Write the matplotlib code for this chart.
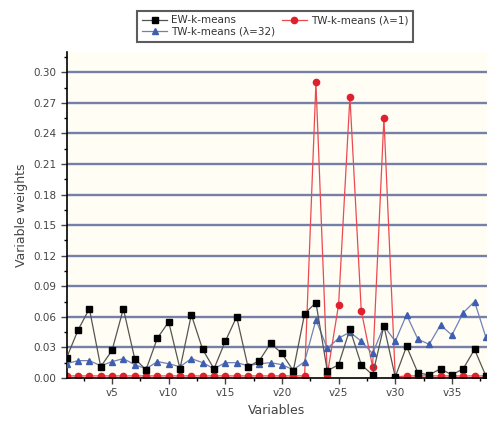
import numpy as np
import matplotlib.pyplot as plt
from matplotlib.ticker import MultipleLocator

# variable index v1..v38
variables = np.arange(1, 39)

ew_kmeans = [0.020, 0.047, 0.068, 0.011, 0.027, 0.068, 0.019, 0.008, 0.039, 0.055,
             0.009, 0.062, 0.028, 0.009, 0.036, 0.060, 0.011, 0.017, 0.034, 0.024,
             0.007, 0.063, 0.074, 0.007, 0.013, 0.048, 0.013, 0.003, 0.051, 0.001,
             0.031, 0.005, 0.003, 0.009, 0.003, 0.009, 0.028, 0.002]

tw_kmeans_1 = [0.002, 0.002, 0.002, 0.002, 0.002, 0.002, 0.002, 0.002, 0.002, 0.002,
               0.002, 0.002, 0.002, 0.002, 0.002, 0.002, 0.002, 0.002, 0.002, 0.002,
               0.002, 0.002, 0.290, 0.003, 0.072, 0.276, 0.066, 0.011, 0.255, 0.001,
               0.002, 0.002, 0.002, 0.002, 0.002, 0.002, 0.002, 0.002]

tw_kmeans_32 = [0.014, 0.017, 0.017, 0.012, 0.016, 0.019, 0.013, 0.009, 0.016, 0.014,
                0.011, 0.019, 0.015, 0.009, 0.015, 0.015, 0.012, 0.014, 0.015, 0.013,
                0.008, 0.016, 0.057, 0.029, 0.039, 0.045, 0.036, 0.024, 0.051, 0.036,
                0.062, 0.038, 0.033, 0.052, 0.042, 0.064, 0.075, 0.040]

xtick_pos = [5, 10, 15, 20, 25, 30, 35]
xtick_labels = ['v5', 'v10', 'v15', 'v20', 'v25', 'v30', 'v35']

fig = plt.figure(figsize=(4.87, 4.29), dpi=100)
ax = fig.add_axes([0.137, 0.119, 0.863, 0.76])
ax.set_facecolor('#fffdf4')

for yv in np.arange(0.03, 0.31, 0.03):
    ax.axhline(yv, color='#7580a8', lw=1.7, zorder=0)

l_red, = ax.plot(variables, tw_kmeans_1, color='#ec4a52', lw=0.9, marker='o', ms=4.5,
                 mfc='#e0202e', mec='#e0202e', label='TW-k-means (λ=1)', zorder=2)
l_blue, = ax.plot(variables, tw_kmeans_32, color='#7181b8', lw=0.9, marker='^', ms=5,
                  mfc='#3e5fb0', mec='#3e5fb0', label='TW-k-means (λ=32)', zorder=3)
l_black, = ax.plot(variables, ew_kmeans, color='#555555', lw=0.9, marker='s', ms=4.5,
                   mfc='black', mec='black', label='EW-k-means', zorder=4)

ax.set_xlim(1, 38.1)
ax.set_ylim(0, 0.32)
ax.yaxis.set_minor_locator(MultipleLocator(0.015))
ax.set_yticks(np.arange(0, 0.31, 0.03))
ax.set_yticklabels(['%.2f' % v for v in np.arange(0, 0.31, 0.03)])
ax.set_xticks(xtick_pos)
ax.set_xticklabels(xtick_labels)
ax.xaxis.set_minor_locator(MultipleLocator(2.5))
ax.tick_params(labelsize=7.5, colors='#444444', length=4, width=1)
ax.tick_params(which='minor', length=2.5, width=1)

for s in ['top', 'right']:
    ax.spines[s].set_visible(False)
ax.spines['left'].set_linewidth(1.2)
ax.spines['bottom'].set_linewidth(1.2)

ax.set_xlabel('Variables', fontsize=9, color='#444444')
ax.set_ylabel('Variable weights', fontsize=9, color='#444444')

# column-wise fill: EW, TW(32) in column 1, TW(1) in column 2
leg = fig.legend([l_black, l_blue, l_red],
                 ['EW-k-means', 'TW-k-means (λ=32)', 'TW-k-means (λ=1)'],
                 loc='center', bbox_to_anchor=(0.565, 0.939), ncol=2,
                 fontsize=7.5, frameon=True, fancybox=False, edgecolor='#333333',
                 handlelength=2.4, handletextpad=0.4, columnspacing=0.6,
                 borderpad=0.45, labelspacing=0.15, labelcolor='#333333')
leg.get_frame().set_linewidth(1.5)

fig.savefig('out.png', dpi=100)
